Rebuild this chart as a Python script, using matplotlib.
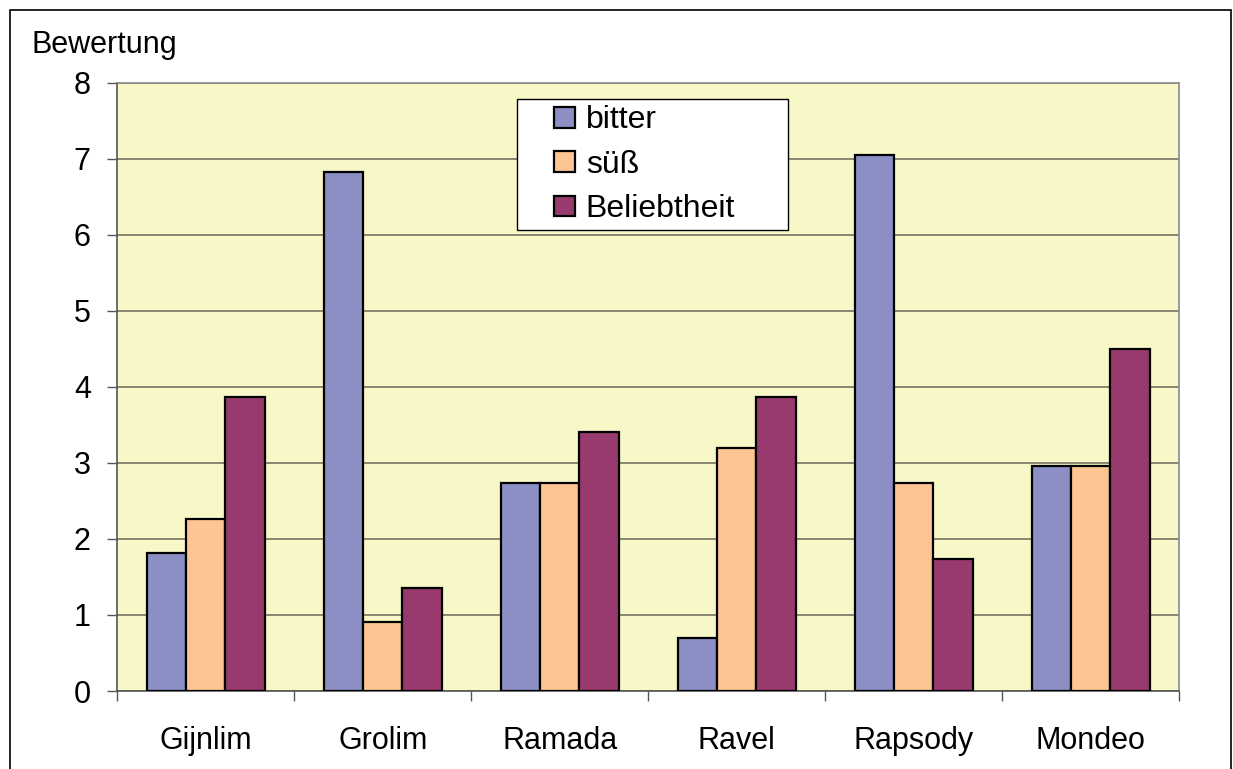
import numpy as np
import matplotlib.pyplot as plt
from matplotlib.patches import Rectangle
from matplotlib.container import BarContainer
from matplotlib.legend_handler import HandlerPatch, update_from_first_child

plt.rcParams['font.family'] = ['Liberation Sans', 'DejaVu Sans']

sorten = ['Gijnlim', 'Grolim', 'Ramada', 'Ravel', 'Rapsody', 'Mondeo']
bitter = [1.81, 6.82, 2.74, 0.70, 7.05, 2.96]
suess = [2.26, 0.91, 2.74, 3.19, 2.74, 2.96]
beliebtheit = [3.87, 1.36, 3.40, 3.87, 1.74, 4.50]

serien = [('bitter', bitter, '#8b8fc4'),
          ('süß', suess, '#fdc594'),
          ('Beliebtheit', beliebtheit, '#983a6d')]


def kaestchen(legend, orig_handle, xdescent, ydescent, width, height, fontsize):
    # small square, pushed to the right end of the handle box
    s = 15
    return Rectangle((width - s - xdescent, (height - s) / 2 - ydescent), s, s)


fig = plt.figure(figsize=(12.33, 7.69), dpi=100)
ax = fig.add_axes([0.0951, 0.1014, 0.8611, 0.7911])
ax.set_facecolor('#f8f7c8')

x = np.arange(len(sorten))
w = 1 / 4.5
for i, (name, werte, farbe) in enumerate(serien):
    ax.bar(x + (i - 1) * w, werte, w, color=farbe, edgecolor='black',
           linewidth=1.6, label=name, zorder=3)

ax.set_xlim(-0.5, len(sorten) - 0.5)
ax.set_ylim(0, 8)
ax.set_yticks(range(9))
ax.yaxis.grid(True, color='#7d7d6a', linewidth=1.3, zorder=1)

# category labels centered, tick marks between the groups
ax.set_xticks(x)
ax.set_xticklabels(sorten, fontsize=22)
ax.tick_params(axis='x', which='major', length=0, pad=25)
ax.set_xticks(np.arange(-0.5, len(sorten)), minor=True)
ax.tick_params(axis='x', which='minor', length=7, width=1, color='#555555',
               direction='out')
ax.tick_params(axis='y', labelsize=22, length=7, width=1, color='#555555',
               pad=12)

for side in ['left', 'bottom']:
    ax.spines[side].set_color('#555555')
    ax.spines[side].set_linewidth(1.2)
for side in ['top', 'right']:
    ax.spines[side].set_color('#8a8a8a')
    ax.spines[side].set_linewidth(1.2)

leg = ax.legend(loc='upper left', mode='expand',
                bbox_to_anchor=(0.3765, 0.0, 0.2553, 0.9732),
                fontsize=23, frameon=True, fancybox=False, framealpha=1,
                edgecolor='black', handlelength=1.6, handleheight=0.7,
                handletextpad=0.35, labelspacing=0.45, borderpad=0.2,
                borderaxespad=0,
                handler_map={BarContainer: HandlerPatch(
                    patch_func=kaestchen, update_func=update_from_first_child)})
leg.get_frame().set_linewidth(1.0)
leg.set_zorder(5)

fig.text(32 / 1233, 1 - 53.3 / 769, 'Bewertung', fontsize=22,
         ha='left', va='baseline')

fig.patches.append(Rectangle((10 / 1233, -0.02), 1221 / 1233, 1.02 - 10 / 769,
                             transform=fig.transFigure, fill=False,
                             edgecolor='black', linewidth=1.2))

fig.savefig('out.png', dpi=100)
